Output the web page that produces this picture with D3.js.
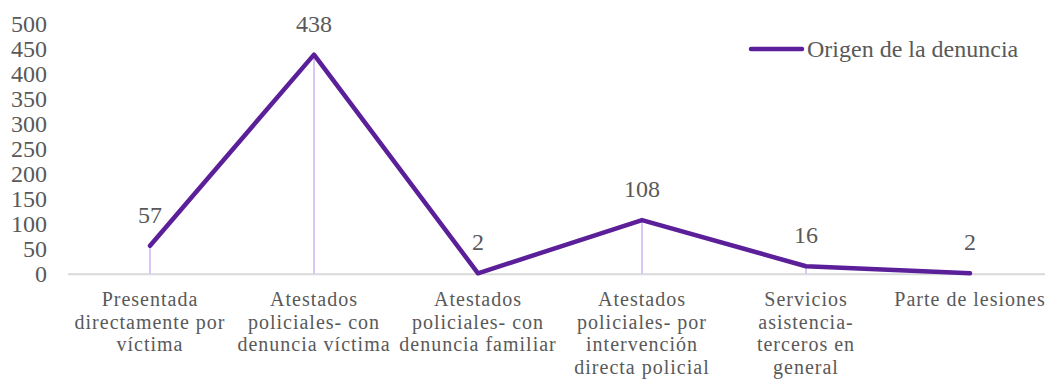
<!DOCTYPE html>
<html>
<head>
<meta charset="utf-8">
<script src="https://cdn.jsdelivr.net/npm/d3@7"></script>
<style>
  html, body { margin: 0; padding: 0; background: #fff; }
  svg text { font-family: "Times New Roman", "Liberation Serif", Tinos, serif !important; }
</style>
</head>
<body>
<svg id="chart" width="1045" height="380"></svg>
<script>
// Origen de la denuncia: número de casos por categoría
const categories = [
  ["Presentada", "directamente por", "víctima"],
  ["Atestados", "policiales- con", "denuncia víctima"],
  ["Atestados", "policiales- con", "denuncia familiar"],
  ["Atestados", "policiales- por", "intervención", "directa policial"],
  ["Servicios", "asistencia-", "terceros en", "general"],
  ["Parte de lesiones"]
];
const values = [57, 438, 2, 108, 16, 2];
const yTicks = [0, 50, 100, 150, 200, 250, 300, 350, 400, 450, 500];
const seriesName = "Origen de la denuncia";

const W = 1045, H = 380;
const left = 68, band = 164;
const y0 = 274.3, yTop = 23.5;

const svg = d3.select("#chart");
const keys = d3.range(categories.length);

const x = d3.scaleBand().domain(keys).range([left, left + band * categories.length]).padding(0);
const y = d3.scaleLinear().domain([0, 500]).range([y0, yTop]);
const cx = i => x(i) + x.bandwidth() / 2;

const lineColor = "#5a1f99";
const textColor = "#595959";

// Y axis labels
const yAxis = d3.axisLeft(y).tickValues(yTicks).tickSize(0).tickPadding(0).tickFormat(d3.format("d"));
const gy = svg.append("g").attr("transform", "translate(47,0)").call(yAxis);
gy.select(".domain").remove();
gy.attr("font-family", null);
gy.selectAll("text")
  .attr("fill", textColor)
  .style("font-size", "24px");

// baseline
svg.append("line")
  .attr("x1", left).attr("x2", W)
  .attr("y1", y(0)).attr("y2", y(0))
  .attr("stroke", "#d9d9d9").attr("stroke-width", 2);

// drop lines from each point to the axis
svg.append("g").selectAll("line").data(values).join("line")
  .attr("x1", (d, i) => cx(i)).attr("x2", (d, i) => cx(i))
  .attr("y1", d => y(d)).attr("y2", y(0))
  .attr("stroke", "#dcc6f2").attr("stroke-width", 2);

// series line
const line = d3.line().x((d, i) => cx(i)).y(d => y(d));
svg.append("path")
  .datum(values)
  .attr("d", line)
  .attr("fill", "none")
  .attr("stroke", lineColor)
  .attr("stroke-width", 4.5)
  .attr("stroke-linejoin", "round")
  .attr("stroke-linecap", "round");

// value labels
svg.append("g").selectAll("text").data(values).join("text")
  .attr("x", (d, i) => cx(i))
  .attr("y", d => y(d) - 23)
  .attr("text-anchor", "middle")
  .attr("fill", textColor)
  .style("font-size", "24px")
  .text(d => d);

// category labels
const xg = svg.append("g");
categories.forEach((lines, i) => {
  const t = xg.append("text")
    .attr("x", cx(i))
    .attr("y", 306)
    .attr("text-anchor", "middle")
    .attr("fill", textColor)
    .style("font-size", "20px")
    .style("letter-spacing", "1px");
  lines.forEach((s, j) => {
    t.append("tspan").attr("x", cx(i)).attr("dy", j === 0 ? 0 : 22.7).text(s);
  });
});

// legend
const lg = svg.append("g");
lg.append("line")
  .attr("x1", 751).attr("x2", 802).attr("y1", 49).attr("y2", 49)
  .attr("stroke", lineColor).attr("stroke-width", 4.5).attr("stroke-linecap", "round");
lg.append("text")
  .attr("x", 807).attr("y", 57)
  .attr("fill", textColor)
  .style("font-size", "24px")
  .text(seriesName);
</script>
</body>
</html>
